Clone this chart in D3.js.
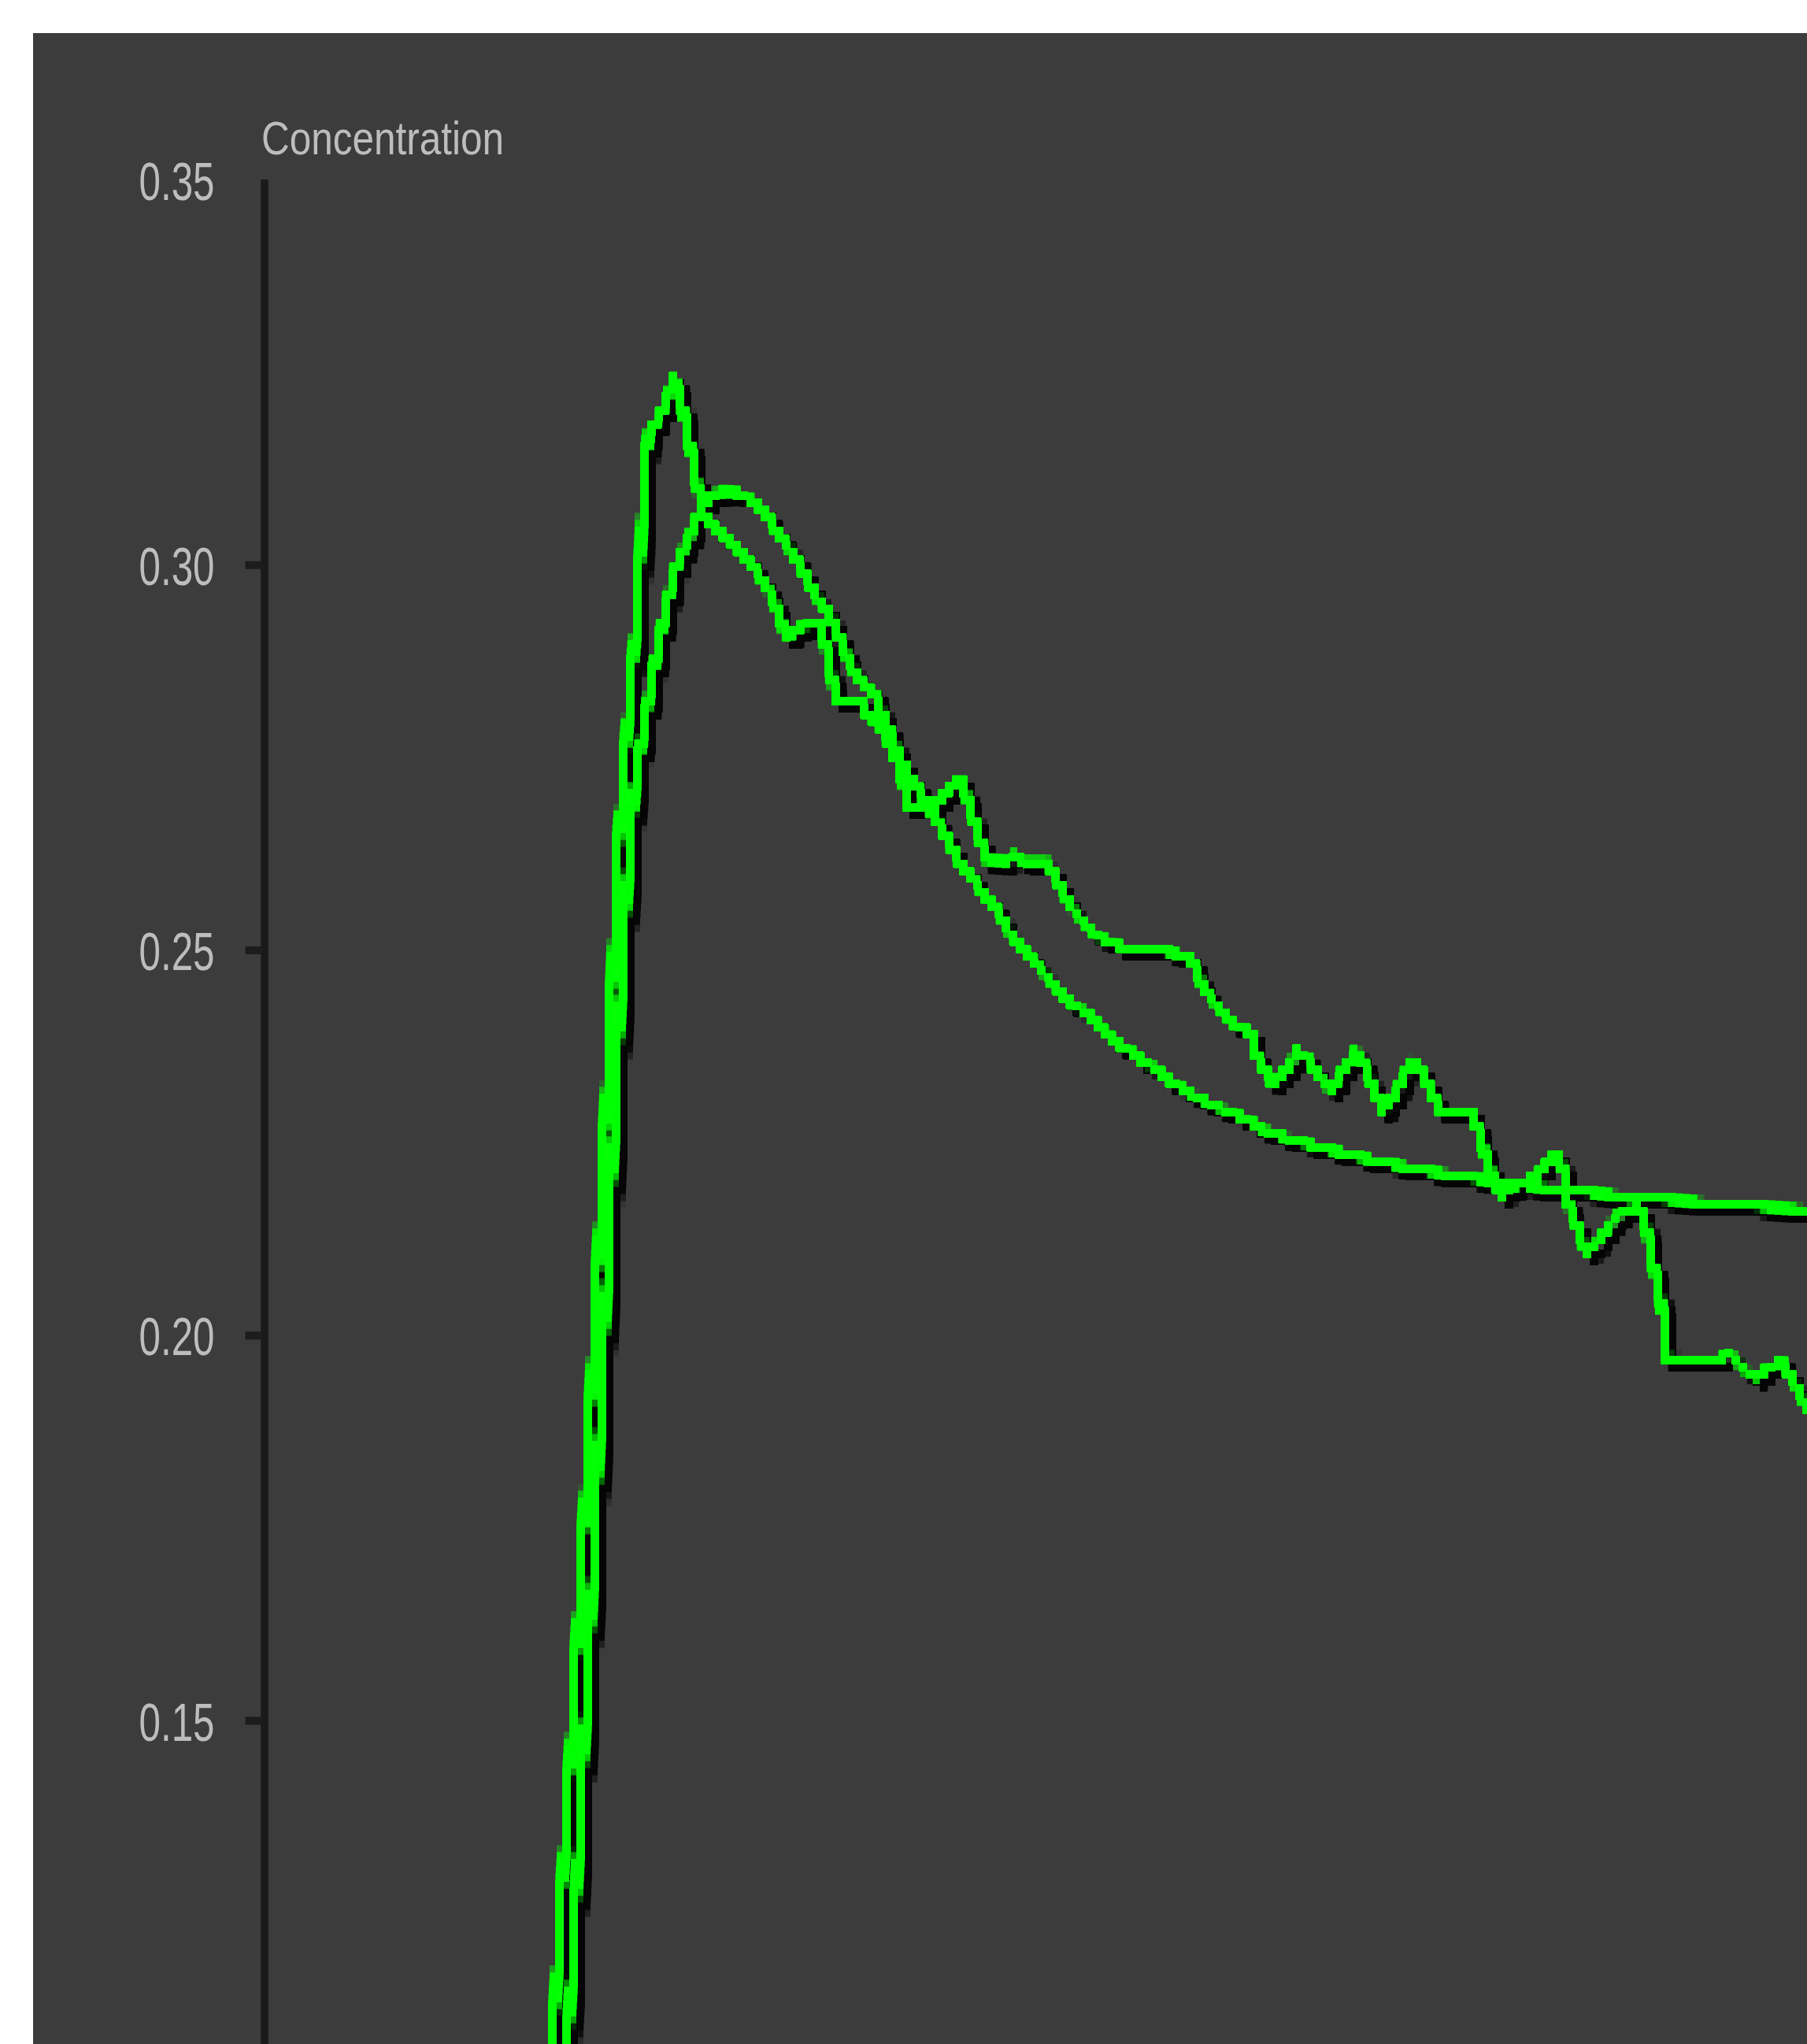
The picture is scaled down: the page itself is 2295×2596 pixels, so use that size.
<!DOCTYPE html>
<html>
<head>
<meta charset="utf-8">
<script src="https://cdn.jsdelivr.net/npm/d3@7"></script>
<style>
  html, body { margin: 0; padding: 0; background: #ffffff; }
  svg { display: block; }
</style>
</head>
<body>
<svg id="chart" width="2295" height="2596"></svg>
<script>
// ---- data (time in minutes, concentration) ----
const yTitle = "Concentration";
const yTickValues = [0.35, 0.30, 0.25, 0.20, 0.15];

// smooth (model) curve
const smoothTime = [38.2, 38.5, 39.5, 40.5, 41.5, 42.4, 43.3, 44.2, 45.2, 46.2, 47.1, 48.1, 49.1, 50.2, 51.1, 52.1, 53.0, 54.0, 54.9, 55.9, 56.9, 58.4, 59.9, 61.2, 62.4, 63.4, 64.4, 65.4, 66.4, 67.4, 68.4, 69.4, 70.4, 71.3, 72.2, 73.1, 74.0, 75.0, 76.0, 77.4, 78.4, 79.4, 80.4, 81.9, 83.2, 84.9, 86.4, 88.2, 90.4, 91.6, 93.4, 94.4, 96.2, 98.2, 100.2, 102.0, 105.0, 106.9, 108.3, 109.9, 111.3, 113.2, 114.4, 116.1, 118.0, 119.9, 122.2, 124.8, 126.8, 129.9, 133.7, 137.6, 142.1, 147.8, 154.0, 162.7, 174.4, 189.8, 197.4];
const smoothConc = [0.1025, 0.1080, 0.1260, 0.1454, 0.1648, 0.1842, 0.2036, 0.2231, 0.2435, 0.2609, 0.2722, 0.2785, 0.2847, 0.2906, 0.2949, 0.2992, 0.3016, 0.3037, 0.3060, 0.3079, 0.3092, 0.3095, 0.3094, 0.3087, 0.3079, 0.3069, 0.3055, 0.3037, 0.3025, 0.3009, 0.2991, 0.2972, 0.2954, 0.2943, 0.2926, 0.2903, 0.2880, 0.2859, 0.2844, 0.2832, 0.2808, 0.2783, 0.2757, 0.2726, 0.2706, 0.2675, 0.2650, 0.2615, 0.2586, 0.2569, 0.2547, 0.2526, 0.2503, 0.2479, 0.2456, 0.2435, 0.2413, 0.2391, 0.2379, 0.2369, 0.2357, 0.2346, 0.2334, 0.2323, 0.2312, 0.2302, 0.2291, 0.2280, 0.2267, 0.2256, 0.2245, 0.2235, 0.2224, 0.2213, 0.2203, 0.2191, 0.2179, 0.2167, 0.2162];

// observed (jagged) curve
const obsTime = [36.3, 36.6, 37.6, 38.8, 39.9, 41.0, 42.0, 43.0, 44.0, 45.0, 46.1, 47.2, 47.8, 48.2, 48.8, 50.2, 51.1, 52.0, 52.8, 53.6, 54.4, 55.1, 55.7, 56.9, 58.4, 59.7, 60.7, 61.6, 62.6, 63.4, 64.4, 65.2, 66.3, 67.4, 70.4, 71.0, 71.6, 72.3, 72.8, 75.6, 76.4, 78.2, 79.4, 80.6, 81.4, 81.8, 84.8, 86.2, 87.6, 88.6, 89.4, 90.2, 91.0, 91.6, 94.4, 95.4, 96.4, 99.4, 100.2, 101.2, 102.6, 104.2, 105.9, 108.9, 113.4, 117.6, 118.4, 119.4, 120.9, 123.2, 125.4, 125.9, 127.0, 128.1, 129.9, 131.2, 132.6, 133.9, 135.4, 136.8, 138.6, 139.8, 140.9, 142.1, 143.6, 144.6, 145.9, 147.2, 148.4, 149.4, 153.2, 154.2, 155.1, 156.0, 157.1, 158.4, 160.4, 161.9, 164.0, 164.8, 165.6, 166.6, 167.9, 169.6, 170.6, 171.9, 174.4, 175.3, 176.2, 177.2, 178.0, 178.2, 184.9, 185.9, 186.9, 187.9, 189.2, 190.9, 192.6, 193.6, 194.6, 195.6, 197.4];
const obsConc = [0.1025, 0.1080, 0.1260, 0.1454, 0.1648, 0.1842, 0.2036, 0.2231, 0.2435, 0.2650, 0.2796, 0.2926, 0.3028, 0.3120, 0.3171, 0.3193, 0.3214, 0.3242, 0.3217, 0.3176, 0.3135, 0.3094, 0.3069, 0.3050, 0.3038, 0.3026, 0.3014, 0.3002, 0.2990, 0.2977, 0.2959, 0.2939, 0.2904, 0.2917, 0.2926, 0.2905, 0.2877, 0.2839, 0.2823, 0.2823, 0.2808, 0.2791, 0.2767, 0.2737, 0.2706, 0.2683, 0.2683, 0.2701, 0.2718, 0.2718, 0.2691, 0.2665, 0.2639, 0.2617, 0.2615, 0.2625, 0.2615, 0.2615, 0.2599, 0.2580, 0.2553, 0.2535, 0.2517, 0.2504, 0.2502, 0.2490, 0.2471, 0.2447, 0.2429, 0.2404, 0.2391, 0.2364, 0.2345, 0.2325, 0.2346, 0.2369, 0.2358, 0.2335, 0.2318, 0.2341, 0.2369, 0.2348, 0.2318, 0.2292, 0.2312, 0.2335, 0.2358, 0.2338, 0.2310, 0.2291, 0.2291, 0.2264, 0.2231, 0.2205, 0.2180, 0.2192, 0.2201, 0.2211, 0.2235, 0.2220, 0.2169, 0.2144, 0.2106, 0.2123, 0.2141, 0.2156, 0.2168, 0.2149, 0.2098, 0.2052, 0.1996, 0.1967, 0.1967, 0.1978, 0.1967, 0.1956, 0.1945, 0.1956, 0.1967, 0.1950, 0.1933, 0.1912, 0.1888];

// ---- drawing ----
const W = 2295, H = 2596;
const CELL = 9.62;              // size of one "pixel" of the original (upscaled) picture
const GRID0 = 4;                // offset of the pixel grid
const svg = d3.select("#chart");

const x = d3.scaleLinear().domain([0, 200]).range([336, 2336]);
const y = d3.scaleLinear().domain([0.15, 0.35]).range([2185, 228]);

// pixelation filter (nearest-neighbour sampling on a CELL grid)
const defs = svg.append("defs");
const px = defs.append("filter")
  .attr("id", "pixelate")
  .attr("filterUnits", "userSpaceOnUse")
  .attr("primitiveUnits", "userSpaceOnUse")
  .attr("x", 0).attr("y", 0).attr("width", W).attr("height", H)
  .attr("color-interpolation-filters", "sRGB");
px.append("feFlood")
  .attr("x", GRID0 + CELL / 2 - 1).attr("y", GRID0 + CELL / 2 - 1)
  .attr("width", 2).attr("height", 2)
  .attr("flood-color", "#ffffff").attr("flood-opacity", 1);
px.append("feComposite")
  .attr("x", GRID0).attr("y", GRID0)
  .attr("width", CELL).attr("height", CELL);
px.append("feTile").attr("result", "dots");
px.append("feComposite")
  .attr("in", "SourceGraphic").attr("in2", "dots")
  .attr("operator", "in");
px.append("feMorphology")
  .attr("operator", "dilate")
  .attr("radius", CELL / 2 - 0.6);

// panel background
svg.append("rect")
  .attr("x", 42).attr("y", 42)
  .attr("width", W - 42).attr("height", H - 42)
  .attr("fill", "#3c3c3c");

// y axis line (continues below the visible area)
svg.append("line")
  .attr("x1", 336).attr("x2", 336)
  .attr("y1", y(0.35)).attr("y2", y(0))
  .attr("stroke", "#1a1a1a")
  .attr("stroke-width", CELL);

// axis ticks + labels
const axis = d3.axisLeft(y)
  .tickValues(yTickValues)
  .tickFormat(d3.format(".2f"))
  .tickSize(20)
  .tickSizeOuter(0)
  .tickPadding(39);

const gAxis = svg.append("g")
  .attr("transform", "translate(331.5,0)")
  .call(axis);
gAxis.select(".domain").remove();
gAxis.selectAll(".tick line")
  .attr("stroke", "#1c1c1c")
  .attr("stroke-width", 10)
  .attr("display", d => d === 0.35 ? "none" : null);
gAxis.selectAll(".tick text")
  .attr("fill", "#bdbdbd")
  .attr("font-family", "Liberation Sans, Arial, sans-serif")
  .attr("font-size", 68)
  .attr("dy", null)
  .attr("y", 25)
  .attr("textLength", 96)
  .attr("lengthAdjust", "spacingAndGlyphs");

// axis title
svg.append("text")
  .attr("x", 332).attr("y", 196)
  .attr("fill", "#bdbdbd")
  .attr("font-family", "Liberation Sans, Arial, sans-serif")
  .attr("font-size", 60)
  .attr("textLength", 308)
  .attr("lengthAdjust", "spacingAndGlyphs")
  .text(yTitle);

// series
const smooth = smoothTime.map((t, i) => ({ t, c: smoothConc[i] }));
const obs = obsTime.map((t, i) => ({ t, c: obsConc[i] }));

const line = d3.line().x(d => x(d.t)).y(d => y(d.c));
const series = [smooth, obs];

const gLines = svg.append("g").attr("filter", "url(#pixelate)");

// dark shadows (offset by one pixel cell)
gLines.append("g")
  .attr("transform", `translate(${CELL},${CELL})`)
  .selectAll("path")
  .data(series)
  .join("path")
  .attr("d", line)
  .attr("fill", "none")
  .attr("stroke", "#050505")
  .attr("stroke-width", CELL)
  .attr("stroke-linejoin", "round");

// green lines
gLines.append("g")
  .selectAll("path")
  .data(series)
  .join("path")
  .attr("d", line)
  .attr("fill", "none")
  .attr("stroke", "#00ff00")
  .attr("stroke-width", CELL)
  .attr("stroke-linejoin", "round");
</script>
</body>
</html>
